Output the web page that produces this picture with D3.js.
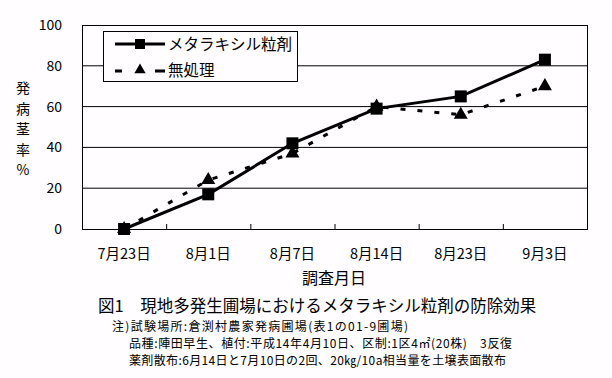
<!DOCTYPE html>
<html>
<head>
<meta charset="utf-8">
<script src="https://cdn.jsdelivr.net/npm/d3@7"></script>
<style>
  body { margin: 0; background: #fffdff; }
  svg { display: block; font-family: "Noto Sans CJK JP", "DejaVu Sans", sans-serif; }
</style>
</head>
<body>
<div class="container"></div>
<script>
var dates = ["7月23日", "8月1日", "8月7日", "8月14日", "8月23日", "9月3日"];
var metalaxyl = [0, 17, 42, 59, 65, 83];
var untreated = [0, 24, 37, 60, 56, 70];
var yTicks = [0, 20, 40, 60, 80, 100];
var seriesNames = ["メタラキシル粒剤", "無処理"];
var yTitle = ["発", "病", "茎", "率", "%"];
var noteLines = [
  "注)試験場所:倉渕村農家発病圃場(表1の01-9圃場)",
  "品種:陣田早生、植付:平成14年4月10日、区制:1区4㎡(20株)　3反復",
  "薬剤散布:6月14日と7月10日の2回、20㎏/10a相当量を土壌表面散布"
];
var caption = "図1　現地多発生圃場におけるメタラキシル粒剤の防除効果";

const WIDTH = 612;
const HEIGHT = 378;
const LEFT = 82, RIGHT = 587, TOP = 25, BOTTOM = 229;

var svg = d3.select('.container').append('svg')
  .attr('width', WIDTH)
  .attr('height', HEIGHT);

var xScale = d3.scaleBand()
  .domain(dates)
  .range([LEFT, RIGHT]);

var yScale = d3.scaleLinear()
  .domain([0, 100])
  .range([BOTTOM, TOP]);

var cx = function (d, i) { return xScale(dates[i]) + xScale.bandwidth() / 2; };

// gridlines
svg.append('g').selectAll('line')
  .data(yTicks.slice(1, -1))
  .enter().append('line')
  .attr('x1', LEFT).attr('x2', RIGHT)
  .attr('y1', function (d) { return yScale(d); })
  .attr('y2', function (d) { return yScale(d); })
  .attr('stroke', '#000').attr('stroke-width', 1);

// plot border
svg.append('rect')
  .attr('x', LEFT + 0.5).attr('y', yScale(100) + 0.5)
  .attr('width', RIGHT - LEFT).attr('height', BOTTOM - yScale(100))
  .attr('fill', 'none').attr('stroke', '#000').attr('stroke-width', 1);

// x ticks at band boundaries
svg.append('g').selectAll('line')
  .data(dates.slice(1))
  .enter().append('line')
  .attr('x1', function (d) { return xScale(d) + 0.5; })
  .attr('x2', function (d) { return xScale(d) + 0.5; })
  .attr('y1', BOTTOM).attr('y2', BOTTOM - 5)
  .attr('stroke', '#000');

// y tick labels
svg.append('g').selectAll('text')
  .data(yTicks)
  .enter().append('text')
  .attr('x', 62)
  .attr('y', function (d) { return yScale(d); })
  .attr('dy', '0.36em')
  .attr('text-anchor', 'end')
  .attr('font-size', 14)
  .text(function (d) { return d; });

// x tick labels
svg.append('g').selectAll('text')
  .data(dates)
  .enter().append('text')
  .attr('x', function (d) { return xScale(d) + xScale.bandwidth() / 2; })
  .attr('y', 254)
  .attr('dy', '0.36em')
  .attr('text-anchor', 'middle')
  .attr('font-size', 14.5)
  .text(function (d) { return d; });

// axis titles
svg.append('text')
  .attr('x', 334).attr('y', 278).attr('dy', '0.36em')
  .attr('text-anchor', 'middle').attr('font-size', 16)
  .text('調査月日');

svg.append('g').selectAll('text')
  .data(yTitle)
  .enter().append('text')
  .attr('x', 23)
  .attr('y', function (d, i) { return 88 + i * 20.5; })
  .attr('dy', '0.36em')
  .attr('text-anchor', 'middle')
  .attr('font-size', 14)
  .text(function (d) { return d; });

// series
var line = d3.line()
  .x(cx)
  .y(function (d) { return yScale(d); });

svg.append('path')
  .datum(untreated)
  .attr('d', line)
  .attr('fill', 'none')
  .attr('stroke', '#000')
  .attr('stroke-width', 3)
  .attr('stroke-dasharray', '5,12');

svg.append('path')
  .datum(metalaxyl)
  .attr('d', line)
  .attr('fill', 'none')
  .attr('stroke', '#000')
  .attr('stroke-width', 3);

var tri = d3.symbol().type(d3.symbolTriangle).size(85);

svg.append('g').selectAll('path')
  .data(untreated)
  .enter().append('path')
  .attr('d', tri)
  .attr('transform', function (d, i) { return 'translate(' + cx(d, i) + ',' + yScale(d) + ')'; })
  .attr('fill', '#000');

svg.append('g').selectAll('rect')
  .data(metalaxyl)
  .enter().append('rect')
  .attr('x', function (d, i) { return cx(d, i) - 6; })
  .attr('y', function (d) { return yScale(d) - 6; })
  .attr('width', 12).attr('height', 12)
  .attr('fill', '#000');

// legend
var legend = svg.append('g');
legend.append('rect')
  .attr('x', 103.5).attr('y', 31.5)
  .attr('width', 194).attr('height', 50)
  .attr('fill', '#fffdff').attr('stroke', '#000');

legend.append('line')
  .attr('x1', 115).attr('x2', 165).attr('y1', 44).attr('y2', 44)
  .attr('stroke', '#000').attr('stroke-width', 3);
legend.append('rect')
  .attr('x', 135).attr('y', 39).attr('width', 10).attr('height', 10)
  .attr('fill', '#000');

legend.append('line')
  .attr('x1', 115).attr('x2', 165).attr('y1', 71).attr('y2', 71)
  .attr('stroke', '#000').attr('stroke-width', 3)
  .attr('stroke-dasharray', '7,33,10');
legend.append('path')
  .attr('d', d3.symbol().type(d3.symbolTriangle).size(55))
  .attr('transform', 'translate(140,70)')
  .attr('fill', '#000');

legend.selectAll('text')
  .data(seriesNames)
  .enter().append('text')
  .attr('x', 168)
  .attr('y', function (d, i) { return 44 + i * 26; })
  .attr('dy', '0.36em')
  .attr('font-size', 15.5)
  .text(function (d) { return d; });

// caption and notes
svg.append('text')
  .attr('x', 98).attr('y', 306).attr('dy', '0.36em')
  .attr('font-size', 16.5)
  .text(caption);

var noteX = [112, 129, 129];
var noteW = [296, 383, 377];
svg.append('g').selectAll('text')
  .data(noteLines)
  .enter().append('text')
  .attr('x', function (d, i) { return noteX[i]; })
  .attr('y', function (d, i) { return [327, 344, 361][i]; })
  .attr('dy', '0.36em')
  .attr('font-size', 12)
  .attr('textLength', function (d, i) { return noteW[i]; })
  .attr('lengthAdjust', 'spacing')
  .text(function (d) { return d; });
</script>
</body>
</html>
